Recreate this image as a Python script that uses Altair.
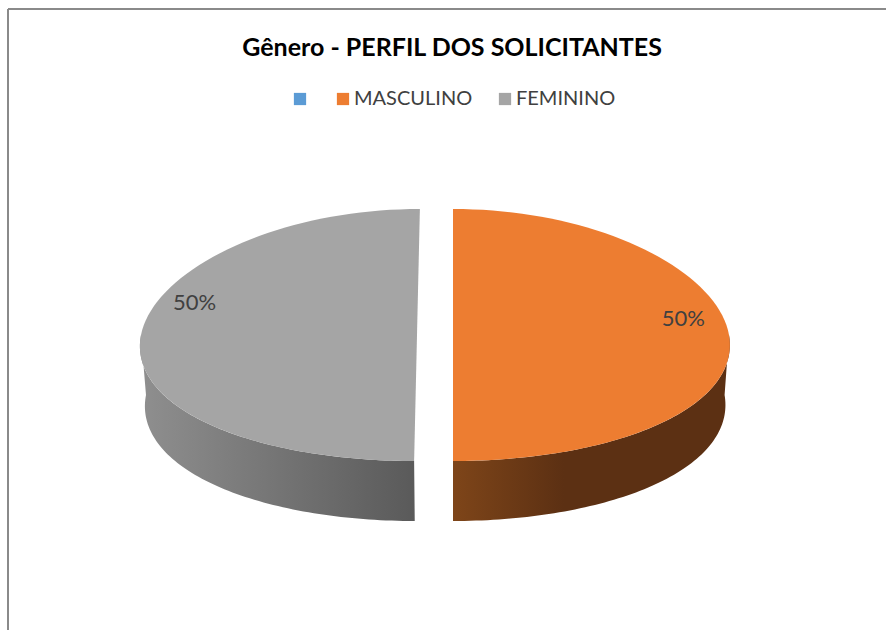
import altair as alt
import pandas as pd

# ---- data ----
categories = ["", "MASCULINO", "FEMININO"]
values = [0, 50, 50]
colors = ["#5B9BD5", "#ED7D31", "#A5A5A5"]
side_light = ["#4A7BAA", "#7E4519", "#8F8F8F"]
side_dark = ["#2E4D6B", "#5C3013", "#5A5A5A"]
side_dark_at = [0.6, 0.4, 1.0]
title_text = "Gênero - PERFIL DOS SOLICITANTES"

df = pd.DataFrame({"categoria": categories, "valor": values,
                   "ordem": list(range(len(categories)))})

# ---- 3-D pie layout (pixels) ----
CX, CY = 435, 335
RX, RY = 276, 126
DEPTH = 60
EXPLODE = 18
N = 80
VX = 453      # horizontal vanishing line of the perspective
P = 0.08      # widening of the near half
Q = 0.016     # narrowing towards the bottom of the side wall
FONT = "Lato"
VIEW_W, VIEW_H = 878, 621
BORDER = "#898989"

x = alt.X("px:Q", scale=alt.Scale(domain=[8, 8 + VIEW_W], nice=False, zero=False), axis=None)
y = alt.Y("py:Q", scale=alt.Scale(domain=[9 + VIEW_H, 9], nice=False, zero=False), axis=None)

base = (
    alt.Chart(df)
    .transform_window(cum="sum(valor)", sort=[alt.SortField("ordem")], frame=[None, 0])
    .transform_joinaggregate(total="sum(valor)")
    .transform_filter("datum.valor > 0")
    .transform_calculate(a0="2*PI*(datum.cum - datum.valor)/datum.total")
    .transform_calculate(a1="2*PI*datum.cum/datum.total")
    .transform_calculate(mid="(datum.a0 + datum.a1)/2")
    .transform_calculate(ox=f"{CX} + {EXPLODE}*sin(datum.mid)")
    .transform_calculate(oy=f"{CY} - {EXPLODE * RY / RX}*cos(datum.mid)")
)

sides = []
for i, cat in enumerate(categories):
    grad = alt.Gradient(
        gradient="linear",
        stops=[alt.GradientStop(color=side_light[i], offset=0),
               alt.GradientStop(color=side_dark[i], offset=side_dark_at[i]),
               alt.GradientStop(color=side_dark[i], offset=1)],
        x1=0, x2=1, y1=0, y2=0,
    )
    side = (
        base.transform_filter(alt.datum.categoria == cat)
        .transform_calculate(b0="max(datum.a0, PI/2)")
        .transform_calculate(b1="min(datum.a1, 3*PI/2)")
        .transform_filter("datum.b1 > datum.b0")
        .transform_calculate(k=f"sequence(0, {2 * N + 2})")
        .transform_flatten(["k"])
        .transform_calculate(h=f"datum.k > {N} ? 1 : 0")
        .transform_calculate(t=f"datum.k <= {N} ? datum.k/{N} : ({2 * N + 1} - datum.k)/{N}")
        .transform_calculate(ang="datum.b0 + datum.t*(datum.b1 - datum.b0)")
        .transform_calculate(rx=f"datum.ox + {RX}*sin(datum.ang)")
        .transform_calculate(ry=f"datum.oy - {RY}*cos(datum.ang)")
        .transform_calculate(
            px=f"{VX} + (datum.rx - {VX})*(1 + {P}*(datum.ry - {CY})/{RY})*(1 - {Q}*datum.h)")
        .transform_calculate(py=f"datum.ry + {DEPTH}*datum.h")
        .mark_line(interpolate="linear-closed", filled=True, fill=grad, strokeWidth=0)
        .encode(x=x, y=y, order="k:Q")
    )
    sides.append(side)

top = (
    base.transform_calculate(k=f"sequence(0, {N + 2})")
    .transform_flatten(["k"])
    .transform_calculate(ang=f"datum.a0 + (datum.k - 1)/{N}*(datum.a1 - datum.a0)")
    .transform_calculate(rx=f"datum.k == 0 ? datum.ox : datum.ox + {RX}*sin(datum.ang)")
    .transform_calculate(ry=f"datum.k == 0 ? datum.oy : datum.oy - {RY}*cos(datum.ang)")
    .transform_calculate(px=f"{VX} + (datum.rx - {VX})*(1 + {P}*(datum.ry - {CY})/{RY})")
    .transform_calculate(py="datum.ry")
    .mark_line(interpolate="linear-closed", filled=True)
    .encode(
        x=x, y=y,
        color=alt.Color(
            "categoria:N",
            scale=alt.Scale(domain=categories, range=colors),
            legend=alt.Legend(
                orient="none", legendX=282, legendY=80, direction="horizontal",
                title=None, symbolType="square", symbolSize=150,
                symbolStrokeWidth=0, labelFont=FONT, labelFontSize=20,
                labelColor="#404040", columnPadding=22, labelOffset=1, padding=0,
            ),
        ),
        detail="categoria:N",
        order="k:Q",
    )
)

labels = (
    base.transform_calculate(px=f"datum.ox + {0.82 * RX}*sin(datum.mid) + 4")
    .transform_calculate(py=f"datum.oy - {0.82 * RY}*cos(datum.mid) - 24 + 8*sin(datum.mid)")
    .transform_calculate(pct="format(datum.valor/datum.total, '.0%')")
    .mark_text(font=FONT, fontSize=22, color="#404040")
    .encode(x=x, y=y, text="pct:N")
)

# chart frame: only its top and left edges fall inside the picture
frame_top = alt.Chart(df).mark_rule(color=BORDER, strokeWidth=1.5).encode(
    x=alt.value(0), x2=alt.value(VIEW_W), y=alt.value(0))
frame_left = alt.Chart(df).mark_rule(color=BORDER, strokeWidth=1.5).encode(
    x=alt.value(0), y=alt.value(0), y2=alt.value(VIEW_H))

chart = (
    alt.layer(frame_top, frame_left, *sides, top, labels)
    .properties(
        width=VIEW_W, height=VIEW_H,
        title=alt.TitleParams(title_text, font=FONT, fontSize=25, fontWeight="bold",
                              color="#000000", anchor="start", offset=-53, dx=235),
        autosize=alt.AutoSizeParams(type="none"),
        padding={"left": 8, "top": 9, "right": 0, "bottom": 0},
        background="white",
    )
    .configure_view(stroke="transparent", strokeWidth=0)
)

chart.save("out.html", embed_options={"renderer": "svg", "actions": False})
